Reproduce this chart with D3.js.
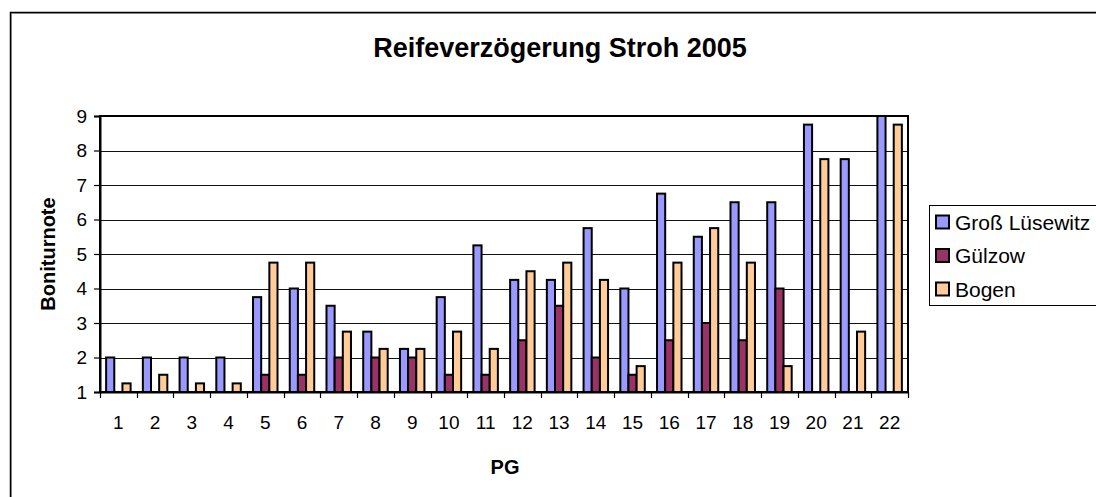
<!DOCTYPE html>
<html>
<head>
<meta charset="utf-8">
<script src="https://cdn.jsdelivr.net/npm/d3@7"></script>
<style>
  html, body { margin: 0; padding: 0; background: #fff; }
  svg { display: block; font-family: "Liberation Sans", Arial, sans-serif; }
</style>
</head>
<body>
<svg id="chart" width="1096" height="497"></svg>
<script>
// Prüfglieder (PG) 1..22
const categories = ["1","2","3","4","5","6","7","8","9","10","11","12","13","14","15","16","17","18","19","20","21","22"];
const seriesNames = ["Groß Lüsewitz", "Gülzow", "Bogen"];
const grossLuesewitz = [2, 2, 2, 2, 3.75, 4, 3.5, 2.75, 2.25, 3.75, 5.25, 4.25, 4.25, 5.75, 4, 6.75, 5.5, 6.5, 6.5, 8.75, 7.75, 9];
const guelzow        = [null, null, null, null, 1.5, 1.5, 2, 2, 2, 1.5, 1.5, 2.5, 3.5, 2, 1.5, 2.5, 3, 2.5, 4, null, null, null];
const bogen          = [1.25, 1.5, 1.25, 1.25, 4.75, 4.75, 2.75, 2.25, 2.25, 2.75, 2.25, 4.5, 4.75, 4.25, 1.75, 4.75, 5.75, 4.75, 1.75, 7.75, 2.75, 8.75];
const yTicks = [1, 2, 3, 4, 5, 6, 7, 8, 9];
const colors = ["#9999FF", "#993366", "#FFCC99"];

const seriesValues = [grossLuesewitz, guelzow, bogen];

const svg = d3.select("#chart");
const plot = { left: 100, right: 908, top: 116, bottom: 392 };

// Outer chart frame with a faint shadow line
svg.append("rect")
  .attr("x", 11.5).attr("y", 13.5)
  .attr("width", 1100).attr("height", 500)
  .attr("fill", "none").attr("stroke", "#aaa").attr("stroke-width", 1);
svg.append("rect")
  .attr("x", 10.5).attr("y", 12.5)
  .attr("width", 1100).attr("height", 500)
  .attr("fill", "none").attr("stroke", "#000").attr("stroke-width", 1.5);

// Title
svg.append("text")
  .attr("x", 560).attr("y", 57)
  .attr("text-anchor", "middle")
  .attr("font-size", 27).attr("font-weight", "bold")
  .text("Reifeverzögerung Stroh 2005");

const x = d3.scaleBand()
  .domain(categories)
  .range([plot.left, plot.right])
  .paddingInner(1 / 3)
  .paddingOuter(1 / 6);

const xs = d3.scaleBand()
  .domain(seriesNames)
  .range([0, x.bandwidth()])
  .padding(0);

const y = d3.scaleLinear()
  .domain([1, 9])
  .range([plot.bottom, plot.top]);

// Horizontal gridlines
svg.append("g")
  .selectAll("line")
  .data(yTicks.slice(1))
  .join("line")
  .attr("x1", plot.left).attr("x2", plot.right)
  .attr("y1", d => Math.round(y(d)) + 0.5).attr("y2", d => Math.round(y(d)) + 0.5)
  .attr("stroke", "#111").attr("stroke-width", 1.2);

// Bars
const barData = [];
categories.forEach((c, i) => {
  seriesNames.forEach((s, j) => {
    const v = seriesValues[j][i];
    if (v !== null && v !== undefined) barData.push({ c, s, v, j });
  });
});

svg.append("g")
  .selectAll("rect")
  .data(barData)
  .join("rect")
  .attr("x", d => x(d.c) + xs(d.s))
  .attr("y", d => y(d.v))
  .attr("width", xs.bandwidth())
  .attr("height", d => y(1) - y(d.v))
  .attr("fill", d => colors[d.j])
  .attr("stroke", "#000")
  .attr("stroke-width", 2);

// Plot area border
svg.append("rect")
  .attr("x", plot.left).attr("y", plot.top)
  .attr("width", plot.right - plot.left).attr("height", plot.bottom - plot.top)
  .attr("fill", "none").attr("stroke", "#000").attr("stroke-width", 2);

// Y axis
const yAxis = d3.axisLeft(y).tickValues(yTicks).tickSize(6).tickPadding(7).tickFormat(d3.format("d"));
const gy = svg.append("g").attr("transform", `translate(${plot.left},0)`).call(yAxis);
gy.select(".domain").attr("stroke", "#000").attr("stroke-width", 2);
gy.selectAll(".tick text").attr("font-size", 19).attr("font-family", "Liberation Sans, Arial, sans-serif").attr("fill", "#000");
gy.selectAll(".tick line").attr("stroke", "#000").attr("stroke-width", 1.2);

// X axis: labels centred under groups, ticks at group boundaries
const xAxis = d3.axisBottom(x).tickSize(0).tickPadding(24);
const gx = svg.append("g").attr("transform", `translate(0,${plot.bottom})`).call(xAxis);
gx.select(".domain").attr("stroke", "#000").attr("stroke-width", 2);
gx.selectAll(".tick text").attr("font-size", 19).attr("font-family", "Liberation Sans, Arial, sans-serif").attr("fill", "#000");

const step = x.step();
const boundaries = categories.map(c => x(c) - step * x.paddingInner() / 2).concat([plot.right]);
svg.append("g")
  .selectAll("line")
  .data(boundaries)
  .join("line")
  .attr("x1", d => Math.round(d) + 0.5).attr("x2", d => Math.round(d) + 0.5)
  .attr("y1", plot.bottom).attr("y2", plot.bottom + 6)
  .attr("stroke", "#000").attr("stroke-width", 1.2);

// Axis titles
svg.append("text")
  .attr("x", 505).attr("y", 474)
  .attr("text-anchor", "middle")
  .attr("font-size", 20).attr("font-weight", "bold")
  .text("PG");

svg.append("text")
  .attr("transform", `translate(55,${(plot.top + plot.bottom) / 2}) rotate(-90)`)
  .attr("text-anchor", "middle")
  .attr("font-size", 20).attr("font-weight", "bold")
  .text("Boniturnote");

// Legend, centred on the plot height
const legend = svg.append("g").attr("transform", "translate(929,205)");
legend.append("rect")
  .attr("x", 0.5).attr("y", 0.5)
  .attr("width", 200).attr("height", 100)
  .attr("fill", "#fff").attr("stroke", "#000").attr("stroke-width", 1);
seriesNames.forEach((s, j) => {
  const row = legend.append("g").attr("transform", `translate(7,${17 + j * 33.5})`);
  row.append("rect")
    .attr("x", 0).attr("y", -6.5).attr("width", 13).attr("height", 13)
    .attr("fill", colors[j]).attr("stroke", "#000").attr("stroke-width", 2);
  row.append("text")
    .attr("x", 19).attr("y", 7.5)
    .attr("font-size", 21)
    .text(s);
});
</script>
</body>
</html>
